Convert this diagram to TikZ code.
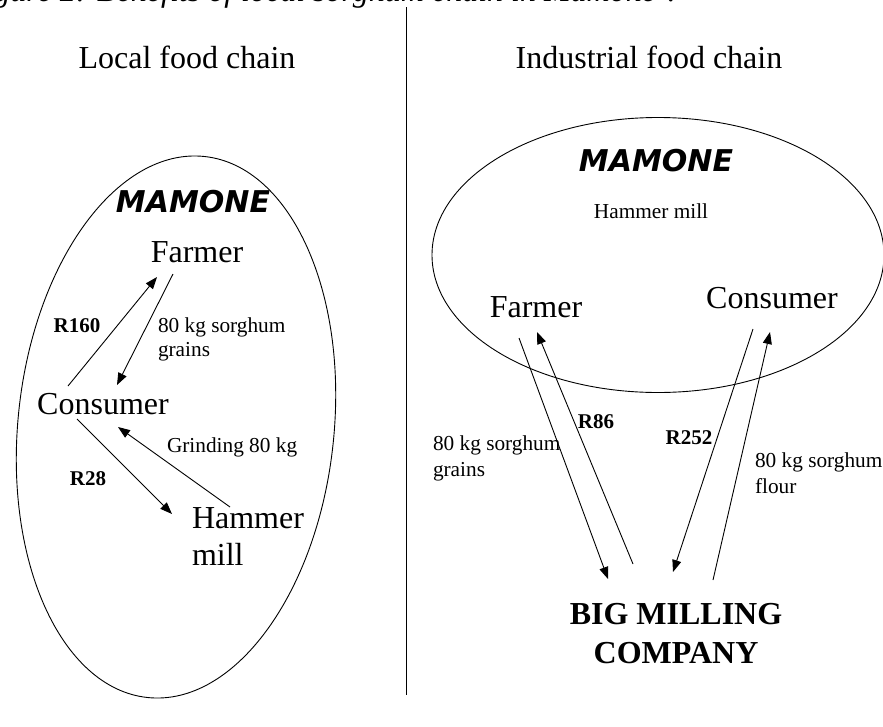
\documentclass[tikz,border=0pt]{standalone}
\usepackage{fontspec}
\setmainfont{Liberation Serif}
\newfontfamily\heavysans{DejaVu Sans}
\usetikzlibrary{arrows.meta,shapes.geometric}
\begin{document}
\begin{tikzpicture}[x=1pt,y=-1pt,
  every node/.style={inner sep=0pt, outer sep=0pt},
  lbl/.style={font=\fontsize{32}{37}\selectfont, anchor=base},
  note/.style={font=\fontsize{21.3}{24.5}\selectfont, anchor=base west},
  price/.style={font=\fontsize{21}{24}\selectfont\bfseries, anchor=base},
  village/.style={font=\heavysans\fontsize{30}{34}\selectfont\bfseries\itshape, anchor=base},
  zone/.style={draw, ellipse, line width=0.9pt},
  flow/.style={line width=0.9pt, -{Triangle[length=12pt,width=9pt]}}]

\useasboundingbox (0,0) rectangle (883,726);
\clip (0,0) rectangle (883,726);

% caption line running off the top edge
\node[anchor=base west, font=\fontsize{32}{37}\selectfont\itshape] (caption) at (-34,1)
  {Figure 2: Benefits of local sorghum chain in Mamone\textsuperscript{4}.};

% column divider
\draw[line width=0.9pt] (406,7) -- (406,695);

% column headings
\node[lbl] (lhead) at (187,68) {Local food chain};
\node[lbl] (rhead) at (649,68) {Industrial food chain};

% ---------------- local chain ----------------
\node[zone, minimum width=316pt, minimum height=544pt, rotate=-6] (lzone) at (176,427) {};
\node[village] (lvillage) at (193,212) {MAMONE};
\node[lbl] (lfarm) at (197,262) {Farmer};
\node[lbl] (lcons) at (103,414) {Consumer};
\node[lbl, anchor=base west] (lmill) at (192,528)
  {\begin{tabular}[t]{@{}l@{}}Hammer\\mill\end{tabular}};

\node[price] (r160) at (77,332) {R160};
\node[note] (lgrain) at (158,332)
  {\begin{tabular}[t]{@{}l@{}}80 kg sorghum\\grains\end{tabular}};
\node[note] (grind) at (167,452) {Grinding 80 kg};
\node[price] (r28) at (88,485) {R28};

\draw[flow] ([shift={(-35,-28)}]lcons.base) -- ([shift={(-40,15)}]lfarm.base);
\draw[flow] ([shift={(-24,12)}]lfarm.base) -- ([shift={(14,-29)}]lcons.base);
\draw[flow] ([shift={(-26,5)}]lcons.base) -- ([shift={(-20,-14)}]lmill.base west);
\draw[flow] ([shift={(38,-21)}]lmill.base west) -- ([shift={(15,13)}]lcons.base);

% ---------------- industrial chain ----------------
\node[zone, minimum width=452pt, minimum height=275pt] (rzone) at (658,255) {};
\node[village] (rvillage) at (656,171) {MAMONE};
\node[note, anchor=base] (rmill) at (651,218) {Hammer mill};
\node[lbl] (rfarm) at (536,317) {Farmer};
\node[lbl] (rcons) at (772,308) {Consumer};
\node[lbl, font=\fontsize{32}{39}\selectfont\bfseries] (company) at (676,624)
  {\begin{tabular}[t]{@{}c@{}}BIG MILLING\\COMPANY\end{tabular}};

\node[note, font=\fontsize{21.3}{26}\selectfont] (rgrain) at (433,450)
  {\begin{tabular}[t]{@{}l@{}}80 kg sorghum\\grains\end{tabular}};
\node[price] (r86) at (596,428) {R86};
\node[price] (r252) at (689,444) {R252};
\node[note, font=\fontsize{21.3}{26}\selectfont] (rflour) at (755,467)
  {\begin{tabular}[t]{@{}l@{}}80 kg sorghum\\flour\end{tabular}};

\draw[flow] ([shift={(-17,21)}]rfarm.base) -- ([shift={(-68,-45)}]company.base);
\draw[flow] ([shift={(-43,-60)}]company.base) -- ([shift={(1,15)}]rfarm.base);
\draw[flow] ([shift={(-19,21)}]rcons.base) -- ([shift={(-3,-52)}]company.base);
\draw[flow] ([shift={(37,-44)}]company.base) -- ([shift={(-2,24)}]rcons.base);
\end{tikzpicture}
\end{document}
